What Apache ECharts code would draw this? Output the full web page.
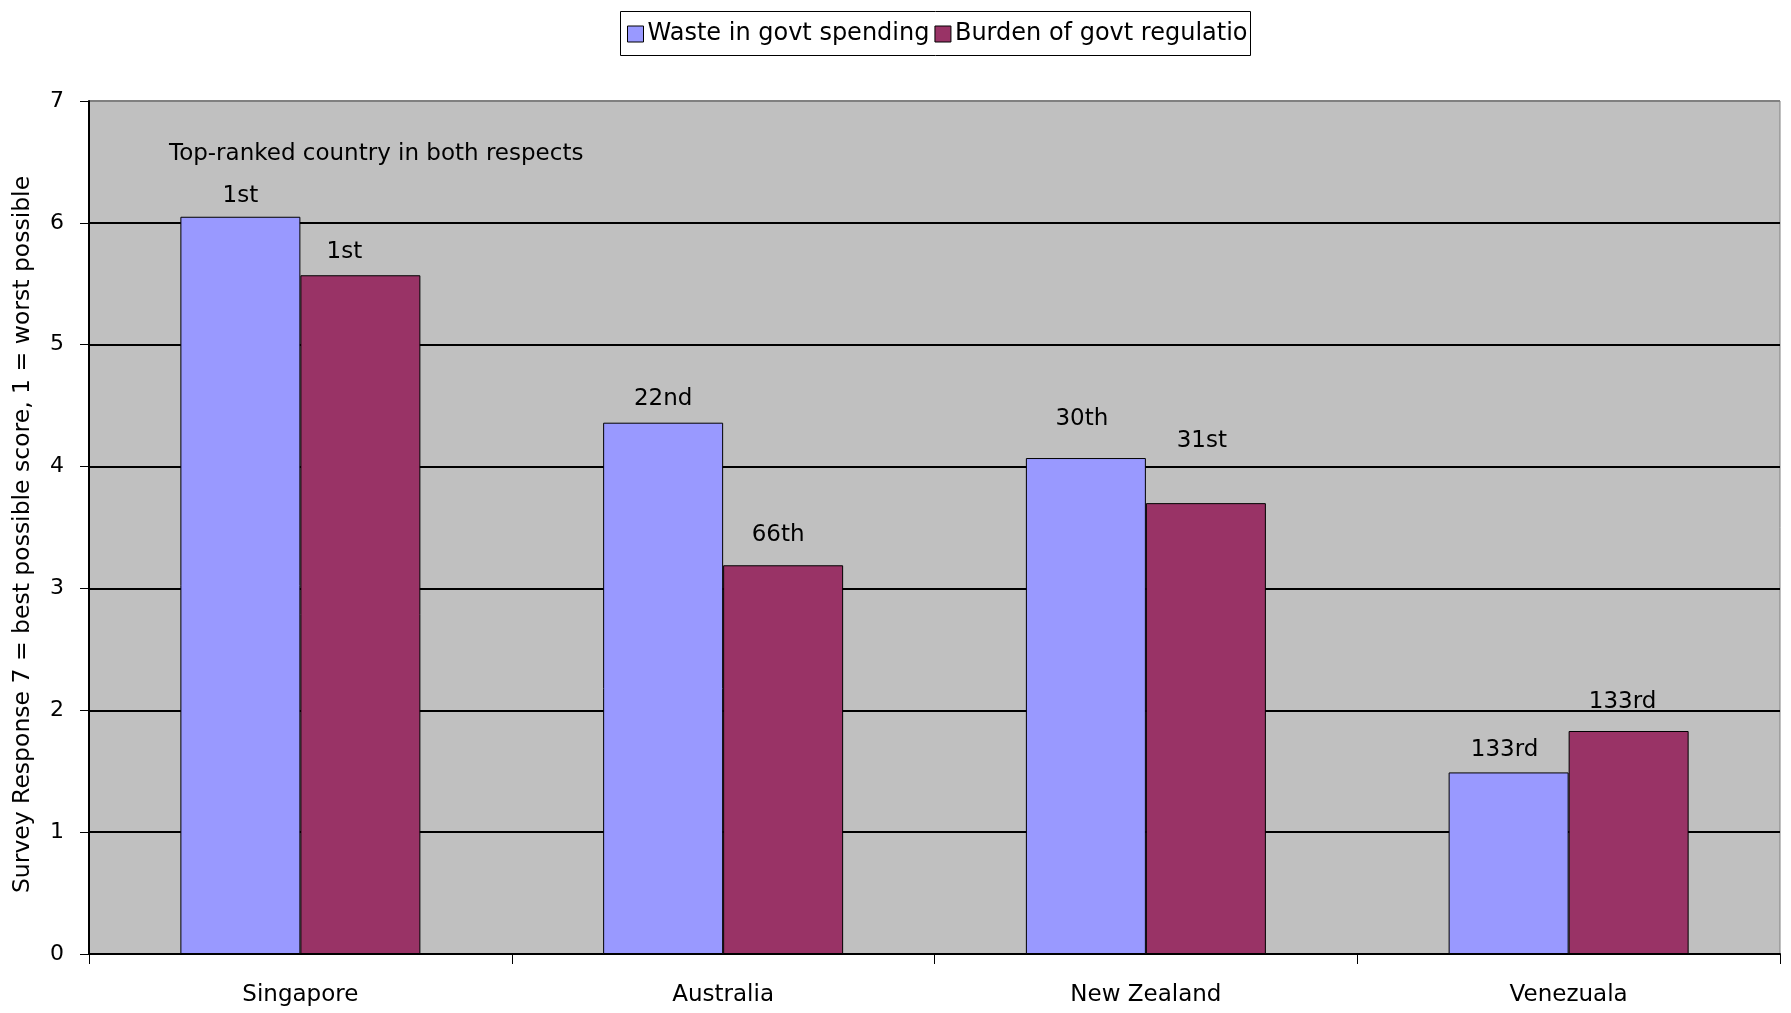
<!DOCTYPE html>
<html>
<head>
<meta charset="utf-8">
<script src="https://cdn.jsdelivr.net/npm/echarts@6/dist/echarts.min.js"></script>
<style>html,body{margin:0;padding:0;background:#fff}#c{width:1791px;height:1013px}</style>
</head>
<body>
<div id="c"></div>
<script>
const categories = ['Singapore', 'Australia', 'New Zealand', 'Venezuala'];
const seriesNames = ['Waste in govt spending', 'Burden of govt regulation'];
const wasteValues = [6.05, 4.36, 4.07, 1.49];
const burdenValues = [5.57, 3.19, 3.70, 1.83];
const wasteRanks = ['1st', '22nd', '30th', '133rd'];
const burdenRanks = ['1st', '66th', '31st', '133rd'];
const yTicks = [0, 1, 2, 3, 4, 5, 6, 7];
const yAxisTitle = 'Survey Response 7 = best possible score, 1 = worst possible';
const annotationText = 'Top-ranked country in both respects';

// label placement (style only): [dx, dy above bar top]
const wasteLabelShift = [[0, 23], [0, 26], [-4, 42], [-4, 25]];
const burdenLabelShift = [[-16, 26], [-5, 33], [-4, 65], [-6, 31]];

const FONT = 'DejaVu Sans';

function buildData(values, ranks, shifts) {
  return values.map((v, i) => ({
    value: v,
    label: { formatter: ranks[i], offset: [shifts[i][0], -(shifts[i][1] - 14)] }
  }));
}

const chart = echarts.init(document.getElementById('c'), null, { renderer: 'canvas' });
chart.setOption({
  animation: false,
  backgroundColor: '#ffffff',
  textStyle: { fontFamily: FONT },
  grid: {
    left: 89, right: 11, top: 101, bottom: 59,
    show: true, backgroundColor: '#c0c0c0', borderColor: '#808080', borderWidth: 1
  },
  graphic: [
    // legend box: white cover for text running past the right edge, then the frame
    { type: 'rect', left: 1249, top: 9, z: 20,
      shape: { width: 30, height: 45 },
      style: { fill: '#ffffff', stroke: null } },
    { type: 'rect', left: 618, top: 9, z: 21,
      shape: { width: 630, height: 44 },
      style: { fill: null, stroke: '#000000', lineWidth: 1 } },
    { type: 'text', left: 169, top: 143, z: 10,
      style: { text: annotationText, font: '23px "DejaVu Sans"', fill: '#000' } }
  ],
  legend: {
    data: seriesNames,
    left: 627, top: 22,
    itemWidth: 16, itemHeight: 16, itemGap: 5,
    icon: 'rect',
    padding: 0,
    textStyle: { fontFamily: FONT, fontSize: 24, color: '#000', padding: [0, 0, 0, -1] },
    itemStyle: { borderColor: '#000', borderWidth: 1 }
  },
  xAxis: {
    type: 'category',
    data: categories,
    boundaryGap: true,
    axisLine: { show: true, lineStyle: { color: '#000', width: 2 } },
    axisTick: { show: true, length: 10, alignWithLabel: false, lineStyle: { color: '#000', width: 1 } },
    axisLabel: { fontFamily: FONT, fontSize: 23, color: '#000', margin: 30 },
    splitLine: { show: false }
  },
  yAxis: {
    type: 'value',
    min: yTicks[0], max: yTicks[yTicks.length - 1], interval: 1,
    name: yAxisTitle,
    nameLocation: 'middle',
    nameGap: 54,
    nameTextStyle: { fontFamily: FONT, fontSize: 23.5, color: '#000', padding: [0, 14, 0, 0] },
    axisLine: { show: true, lineStyle: { color: '#000', width: 2 } },
    axisTick: { show: true, length: 9, lineStyle: { color: '#000', width: 1 } },
    axisLabel: { fontFamily: FONT, fontSize: 22, color: '#000', margin: 25 },
    splitLine: { show: true, lineStyle: { color: ['#000', '#000', '#000', '#000', '#000', '#000', '#000', '#808080'], width: 2 } }
  },
  series: [
    {
      name: seriesNames[0],
      type: 'bar',
      barWidth: 120,
      barGap: '0%',
      itemStyle: { color: '#9999ff', borderColor: '#000', borderWidth: 1 },
      label: { show: true, position: 'top', distance: 0, fontFamily: FONT, fontSize: 23, color: '#000' },
      data: buildData(wasteValues, wasteRanks, wasteLabelShift)
    },
    {
      name: seriesNames[1],
      type: 'bar',
      barWidth: 120,
      barGap: '0%',
      itemStyle: { color: '#993366', borderColor: '#000', borderWidth: 1 },
      label: { show: true, position: 'top', distance: 0, fontFamily: FONT, fontSize: 23, color: '#000' },
      data: buildData(burdenValues, burdenRanks, burdenLabelShift)
    }
  ]
});
</script>
</body>
</html>
